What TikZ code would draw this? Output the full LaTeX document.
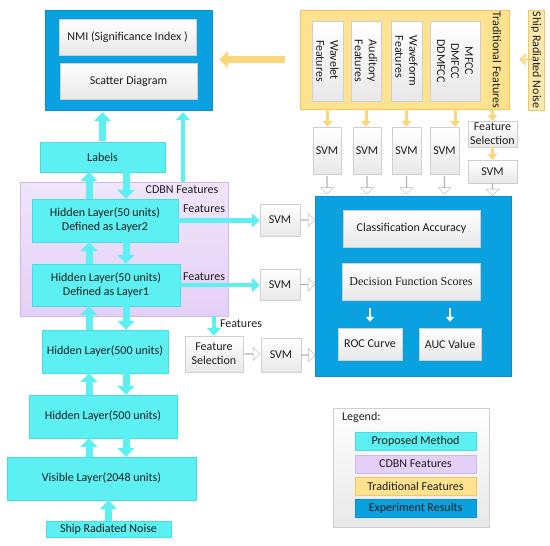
\documentclass[tikz,border=0pt]{standalone}
\usepackage{fontspec}
\setmainfont{Carlito}
\newfontfamily\timesfont{Liberation Serif}
\usetikzlibrary{positioning, arrows.meta, shapes.arrows, shadows, calc}
\definecolor{dbncyan}{HTML}{5CF0F2}
\definecolor{dbnedge}{HTML}{48DDE2}
\definecolor{cdbnlilac}{HTML}{E4D0F6}
\definecolor{cdbnedge}{HTML}{CDB8E8}
\definecolor{tradgold}{HTML}{FFE290}
\definecolor{tradedge}{HTML}{F0C660}
\definecolor{tradarrow}{HTML}{FBD67A}
\definecolor{resblue}{HTML}{0AA1E1}
\definecolor{resedge}{HTML}{088FCC}
\definecolor{boxgray}{HTML}{CFCFCF}
\definecolor{inktext}{HTML}{1E1E1E}

\begin{document}
\begin{tikzpicture}[
      x=1pt, y=-1pt,
      every node/.style={font=\fontsize{12}{14}\selectfont, text=inktext},
      layer/.style={draw=dbnedge, fill=dbncyan, align=center, inner sep=0pt},
      panel/.style={draw=boxgray, top color=white, bottom color=black!9,
                    align=center, inner sep=0pt,
                    drop shadow={opacity=0.18, shadow xshift=1pt, shadow yshift=-1pt}},
      cyanup/.style={draw=dbncyan, line width=7pt, -{Triangle[width=17pt,length=9pt]}},
      cyanthin/.style={draw=dbncyan, line width=4.5pt, -{Triangle[width=14pt,length=8pt]}},
      goldup/.style={draw=tradarrow, line width=3pt, -{Triangle[width=10pt,length=6pt]}},
      goldbig/.style={draw=tradarrow, line width=7pt, -{Triangle[width=17pt,length=9pt]}},
      whitearrow/.style={draw=white, line width=2.5pt, -{Triangle[width=8pt,length=5pt]}},
      hollow/.style={single arrow, draw=black!30, fill=white, inner sep=0pt,
                     minimum width=13pt, single arrow head extend=3.5pt},
    ]
    \useasboundingbox (0,0) rectangle (550,546);

    % experiment results (top left)
    \node[draw=resedge, fill=resblue, minimum width=167pt, minimum height=100pt]
      (nmibox) at (128.5,60) {};
    \node[panel, minimum width=137pt, minimum height=36pt] (nmi) at (127.5,37)
      {NMI (Significance Index )};
    \node[panel, minimum width=137pt, minimum height=36pt] (scatter) at (128.5,81)
      {Scatter Diagram};

    % CDBN features region
    \node[draw=cdbnedge, top color=cdbnlilac!55, bottom color=cdbnlilac,
          minimum width=208pt, minimum height=134pt] (cdbn) at (124,249) {};
    \node (cdbnlab) at (182,190) {CDBN Features};

    % proposed method stack
    \node[layer, minimum width=125pt, minimum height=30pt] (labels) at (102.5,157) {Labels};
    \node[layer, minimum width=146pt, minimum height=43pt] (hl2) at (105,220.5)
      {Hidden Layer(50 units)\\Defined as Layer2};
    \node[layer, minimum width=148pt, minimum height=42pt] (hl1) at (106,285)
      {Hidden Layer(50 units)\\Defined as Layer1};
    \node[layer, minimum width=126pt, minimum height=43pt] (hl500a) at (105,351.5)
      {Hidden Layer(500 units)};
    \node[layer, minimum width=148pt, minimum height=43pt] (hl500b) at (103,416.5)
      {Hidden Layer(500 units)};
    \node[layer, minimum width=189pt, minimum height=43pt] (vis) at (101.5,478.5)
      {Visible Layer(2048 units)};
    \node[layer, minimum width=125pt, minimum height=16pt] (noise) at (108.5,529)
      {Ship Radiated Noise};

    \coordinate (upcol) at (89,0);
    \coordinate (dncol) at (126,0);
    \coordinate (cdbnout) at (183,182);

    \draw[cyanup] (noise.north) -- (noise.north |- vis.south);
    \draw[cyanup] (vis.north -| upcol) -- (hl500b.south -| upcol);
    \draw[cyanup] (hl500b.south -| dncol) -- (vis.north -| dncol);
    \draw[cyanup] (hl500b.north -| upcol) -- (hl500a.south -| upcol);
    \draw[cyanup] (hl500a.south -| dncol) -- (hl500b.north -| dncol);
    \draw[cyanup] (hl500a.north -| upcol) -- (hl1.south -| upcol);
    \draw[cyanup] (hl1.south -| dncol) -- (hl500a.north -| dncol);
    \draw[cyanup] (hl1.north -| upcol) -- (hl2.south -| upcol);
    \draw[cyanup] (hl2.south -| dncol) -- (hl1.north -| dncol);
    \draw[cyanup] (hl2.north -| upcol) -- (labels.south -| upcol);
    \draw[cyanup] (labels.south -| dncol) -- (hl2.north -| dncol);
    \draw[cyanup, shorten <=1pt, shorten >=2pt] (labels.north) -- (labels.north |- nmibox.south);
    \draw[cyanthin, shorten >=2pt] (cdbnout) -- (cdbnout |- nmibox.south);

    % CDBN features to SVM
    \node[panel, minimum width=40pt, minimum height=32pt] (svm1) at (280,220) {SVM};
    \node[panel, minimum width=40pt, minimum height=31pt] (svm2) at (280,284.5) {SVM};
    \node[panel, minimum width=58pt, minimum height=36pt] (fsl) at (214,354)
      {Feature\\Selection};
    \node[panel, minimum width=40pt, minimum height=34pt] (svm3) at (281,355) {SVM};

    \draw[cyanthin] (hl2.east) -- (hl2.east -| svm1.west);
    \draw[cyanthin] (hl1.east) -- (hl1.east -| svm2.west);
    \draw[cyanthin] (fsl.north |- cdbn.south) -- (fsl.north);
    \node (f2lab) at (204,209) {Features};
    \node (f1lab) at (204,277) {Features};
    \node (f0lab) at (241,324) {Features};
    \node[hollow, minimum height=15pt] (hfs) at ($(fsl.east)!.5!(fsl.east -| svm3.west)$) {};

    % traditional features
    \node[draw=tradedge, fill=tradgold, minimum width=209pt, minimum height=99pt]
      (trad) at (404.5,59.5) {};
    \node[panel, rotate=-90, align=left, minimum width=80pt, minimum height=31pt]
      (wav) at (327.5,61) {Wavelet\\Features};
    \node[panel, rotate=-90, align=left, minimum width=80pt, minimum height=30pt]
      (aud) at (366,61) {Auditory\\Features};
    \node[panel, rotate=-90, align=left, minimum width=80pt, minimum height=31pt]
      (wvf) at (406.5,61) {Waveform\\Features};
    \node[panel, rotate=-90, minimum width=80pt, minimum height=50pt]
      (mfcc) at (455,61) {MFCC\\DMFCC\\DDMFCC};
    \node[rotate=-90] (tradlab) at (497,60) {Traditional Features};
    \node[draw=tradedge, fill=tradgold!75, rotate=-90, minimum width=100pt,
          minimum height=16pt, inner sep=0pt] (noise2) at (536,60) {Ship Radiated Noise};
    \node[single arrow, draw=tradedge, fill=tradgold, inner sep=0pt, rotate=180,
          minimum width=11pt, minimum height=13pt, single arrow head extend=2.5pt]
      (hnoise) at ($(trad.east)!.5!(trad.east -| noise2.north)$) {};
    \draw[goldbig, shorten <=15pt, shorten >=7pt] (trad.west) -- (trad.west -| nmibox.east);

    \node[panel, minimum width=28pt, minimum height=47pt] (svma) at (327,150.5) {SVM};
    \node[panel, minimum width=28pt, minimum height=47pt] (svmb) at (367,150.5) {SVM};
    \node[panel, minimum width=29pt, minimum height=47pt] (svmc) at (406.5,150.5) {SVM};
    \node[panel, minimum width=29pt, minimum height=47pt] (svmd) at (444.5,150.5) {SVM};
    \node[panel, minimum width=49pt, minimum height=26pt] (fsr) at (492.5,134)
      {Feature\\Selection};
    \node[panel, minimum width=49pt, minimum height=23pt] (svme) at (492.5,171.5) {SVM};

    \draw[goldup] (wav.west |- trad.south) -- (wav.west |- svma.north);
    \draw[goldup] (aud.west |- trad.south) -- (aud.west |- svmb.north);
    \draw[goldup] (wvf.west |- trad.south) -- (wvf.west |- svmc.north);
    \draw[goldup] (mfcc.west |- trad.south) -- (mfcc.west |- svmd.north);
    \draw[goldup] (fsr.north |- trad.south) -- (fsr.north);
    \draw[goldup] (fsr.south) -- (svme.north);

    % results
    \node[draw=resedge, fill=resblue, minimum width=196pt, minimum height=180pt]
      (resbox) at (413,286) {};
    \node[panel, minimum width=137pt, minimum height=37pt] (acc) at (411.5,228.5)
      {Classification Accuracy};
    \node[panel, minimum width=138pt, minimum height=37pt,
          font=\fontsize{12}{14}\selectfont\timesfont] (dfs) at (411,281.5)
      {Decision Function Scores};
    \node[panel, minimum width=64pt, minimum height=32pt] (roc) at (370,344) {ROC Curve};
    \node[panel, minimum width=62pt, minimum height=32pt] (auc) at (450,344) {AUC Value};
    \draw[whitearrow, shorten <=8pt, shorten >=6pt] (roc.north |- dfs.south) -- (roc.north);
    \draw[whitearrow, shorten <=8pt, shorten >=6pt] (auc.north |- dfs.south) -- (auc.north);

    \node[hollow, rotate=-90, minimum height=18pt] (ha) at ($(svma.south)!.5!(svma.south |- resbox.north)$) {};
    \node[hollow, rotate=-90, minimum height=18pt] (hb) at ($(svmb.south)!.5!(svmb.south |- resbox.north)$) {};
    \node[hollow, rotate=-90, minimum height=18pt] (hc) at ($(svmc.south)!.5!(svmc.south |- resbox.north)$) {};
    \node[hollow, rotate=-90, minimum height=18pt] (hd) at ($(svmd.south)!.5!(svmd.south |- resbox.north)$) {};
    \node[hollow, rotate=-90, minimum height=12pt] (he) at ($(svme.south)!.5!(svme.south |- resbox.north)$) {};
    \node[hollow, minimum height=14pt] (h1) at ($(svm1.east)!.5!(svm1.east -| resbox.west)$) {};
    \node[hollow, minimum height=14pt] (h2) at ($(svm2.east)!.5!(svm2.east -| resbox.west)$) {};
    \node[hollow, minimum height=14pt] (h3) at ($(svm3.east)!.5!(svm3.east -| resbox.west)$) {};

    % legend
    \node[panel, minimum width=156pt, minimum height=119pt] (legend) at (411,467.5) {};
    \node[anchor=west, inner sep=0pt] (legtitle) at (342,417) {Legend:};
    \node[layer, minimum width=121pt, minimum height=18pt] (legprop) at (415.5,441.5)
      {Proposed Method};
    \node[draw=cdbnedge, fill=cdbnlilac, minimum width=121pt, minimum height=18pt,
          inner sep=0pt] (legcdbn) at (415.5,464) {CDBN Features};
    \node[draw=tradedge, fill=tradgold, minimum width=121pt, minimum height=18pt,
          inner sep=0pt] (legtrad) at (415.5,486) {Traditional Features};
    \node[draw=resedge, fill=resblue, minimum width=121pt, minimum height=18pt,
          inner sep=0pt] (legres) at (415.5,508.5) {Experiment Results};
  \end{tikzpicture}
\end{document}
